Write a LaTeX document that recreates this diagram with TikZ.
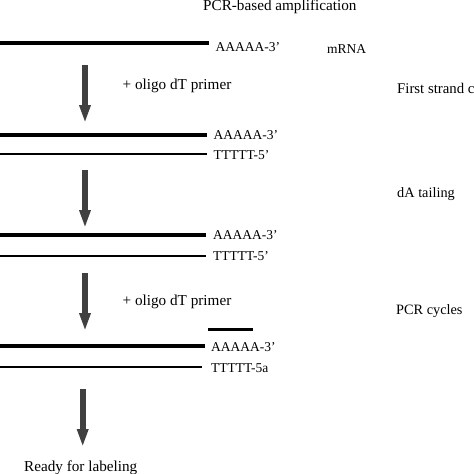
\documentclass[tikz,border=0pt]{standalone}
\usepackage{fontspec}
\setmainfont{Liberation Serif}
\usetikzlibrary{arrows.meta}
\begin{document}
\begin{tikzpicture}[x=1pt,y=-1pt,
  big/.style={font=\fontsize{15.2}{18}\selectfont},
  lab/.style={font=\fontsize{13.5}{16}\selectfont},
  side/.style={font=\fontsize{14.3}{17}\selectfont},
  txt/.style={inner sep=0pt,anchor=base west},
  thickstrand/.style={line width=4pt},
  thinstrand/.style={line width=2pt},
  primerline/.style={line width=3pt},
  steparrow/.style={draw=black!75,line width=6pt,-{Triangle[width=10.5pt,length=18pt]}}
]
\useasboundingbox (0,0) rectangle (474,474);
\clip (0,0) rectangle (474,474);

\node[txt,big] (title) at (203,10) {PCR-based amplification};

% row 1
\coordinate (s1a) at (0,43);
\coordinate (s1b) at (209,43);
\draw[thickstrand] (s1a) -- (s1b);
\node[txt,lab] (l1) at (215.5,51.7) {AAAAA-3’};
\node[txt,lab] (mrna) at (327,53) {mRNA};

\coordinate (a1s) at (85,65);
\coordinate (a1e) at (85,123);
\draw[steparrow] (a1s) -- (a1e);
\node[txt,big] (p1) at (122.5,89) {+ oligo dT primer};
\node[txt,side,font=\fontsize{14.8}{17}\selectfont] (fs) at (397,93) {First strand cDNA};

% row 2
\coordinate (s2a) at (0,135);
\coordinate (s2b) at (207,135);
\draw[thickstrand] (s2a) -- (s2b);
\node[txt,lab] (l2) at (213.5,139) {AAAAA-3’};
\coordinate (s3a) at (0,154);
\coordinate (s3b) at (207,154);
\draw[thinstrand] (s3a) -- (s3b);
\node[txt,lab] (l3) at (213.5,159) {TTTTT-5’};

\coordinate (a2s) at (85,170);
\coordinate (a2e) at (85,228);
\draw[steparrow] (a2s) -- (a2e);
\node[txt,side] (da) at (397,197) {dA tailing};

% row 3
\coordinate (s4a) at (0,235);
\coordinate (s4b) at (205.5,235);
\draw[thickstrand] (s4a) -- (s4b);
\node[txt,lab] (l4) at (213,239.5) {AAAAA-3’};
\coordinate (s5a) at (0,256);
\coordinate (s5b) at (205.5,256);
\draw[thinstrand] (s5a) -- (s5b);
\node[txt,lab] (l5) at (213,260.5) {TTTTT-5’};

\coordinate (a3s) at (85,273);
\coordinate (a3e) at (85,331);
\draw[steparrow] (a3s) -- (a3e);
\node[txt,big] (p2) at (122.5,305) {+ oligo dT primer};
\node[txt,side] (pcr) at (396,314) {PCR cycles};

% row 4
\coordinate (pra) at (208,329);
\coordinate (prb) at (253,329);
\draw[primerline] (pra) -- (prb);
\coordinate (s6a) at (0,346);
\coordinate (s6b) at (205,346);
\draw[thickstrand] (s6a) -- (s6b);
\node[txt,lab] (l6) at (211,351) {AAAAA-3’};
\coordinate (s7a) at (0,367);
\coordinate (s7b) at (202,367);
\draw[thinstrand] (s7a) -- (s7b);
\node[txt,lab] (l7) at (211,372) {TTTTT-5a};

\coordinate (a4s) at (82.7,389);
\coordinate (a4e) at (82.7,447);
\draw[steparrow] (a4s) -- (a4e);
\node[txt,big] (ready) at (24,471.7) {Ready for labeling};
\end{tikzpicture}
\end{document}
